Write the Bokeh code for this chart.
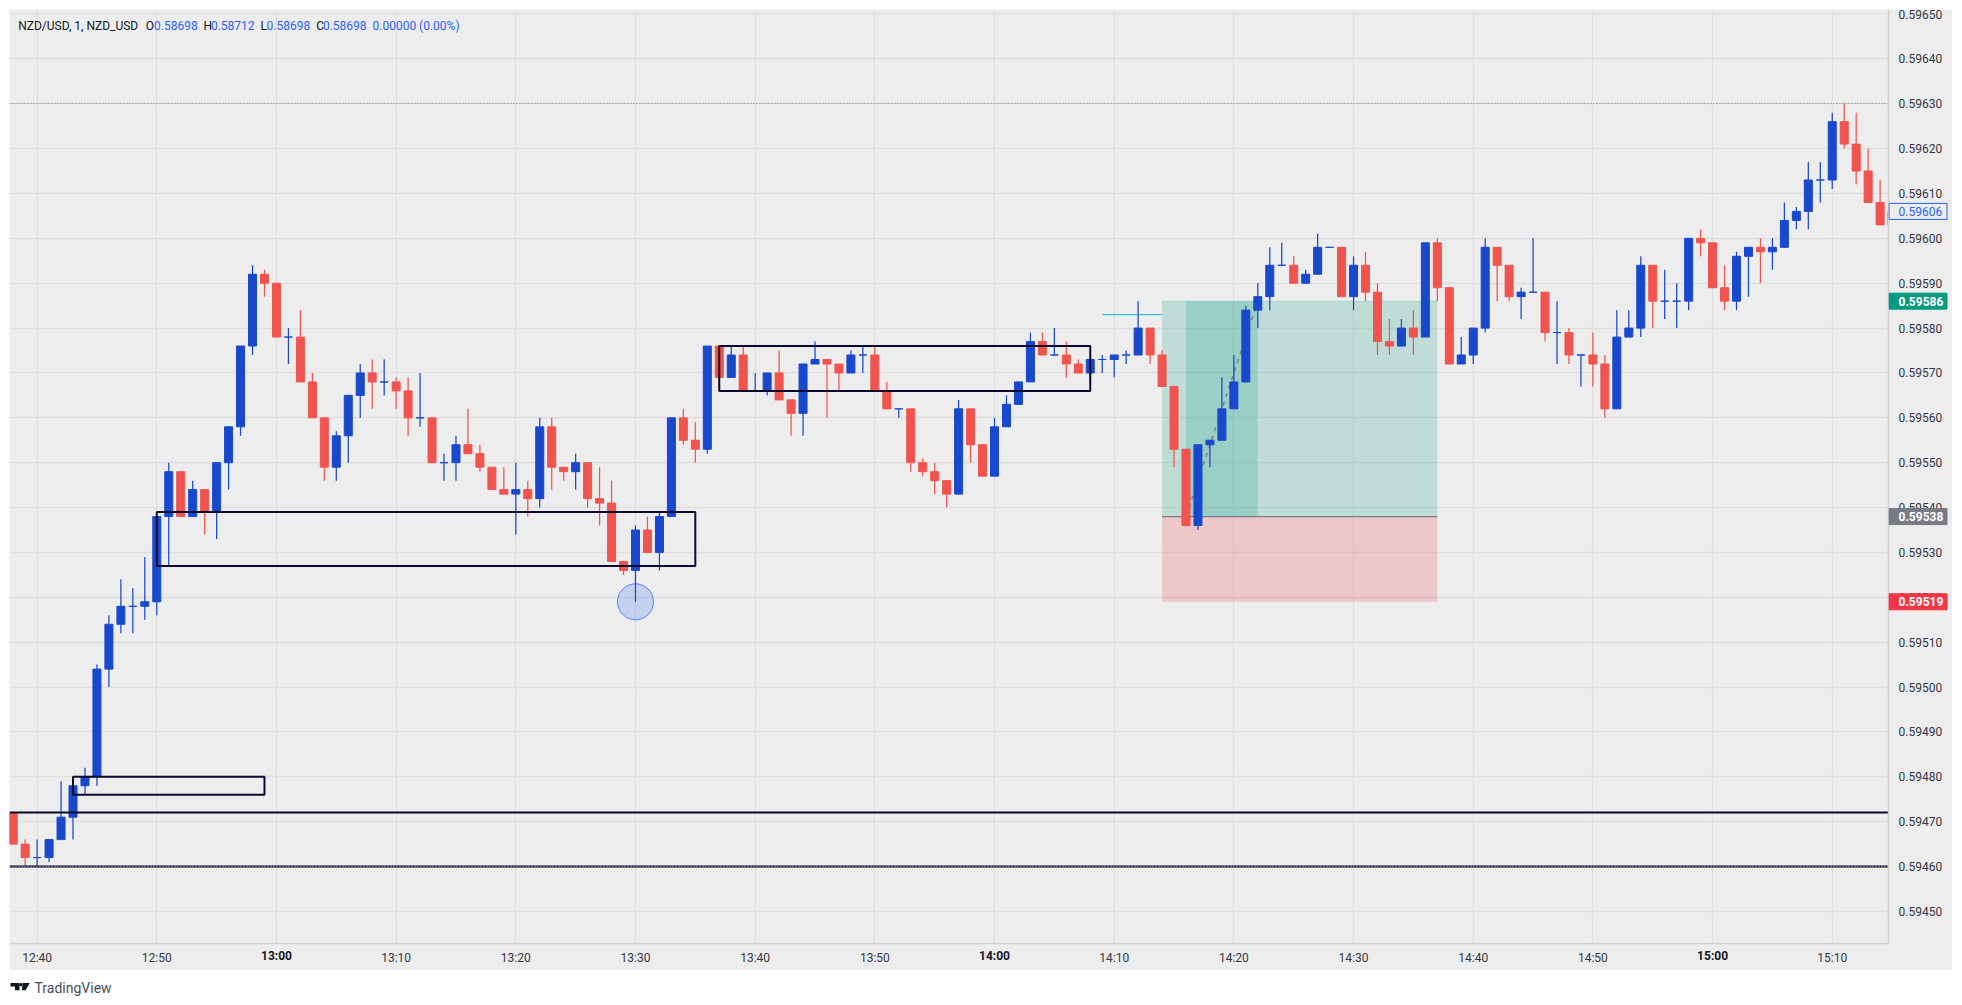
from bokeh.plotting import figure
from bokeh.layouts import column, row
from bokeh.models import Range1d, FixedTicker, PrintfTickFormatter, Label, ColumnDataSource
from bokeh.core.properties import value
from bokeh.embed import file_html
from bokeh.resources import INLINE
import numpy as np

# ---------- data (prices in units of 0.00001, first bar is 12:38, one bar per minute) ----------
first_minute = -2  # minutes relative to 12:40
opens = [59472,59465,59462,59462,59466,59471,59478,59480,59504,59514,59518,59518,59519,59538,59548,59538,59544,59539,59550,59558,
         59576,59592,59590,59578,59578,59568,59560,59549,59556,59565,59570,59568,59568,59566,59560,59560,59550,59550,59554,59552,
         59549,59544,59543,59544,59542,59558,59549,59548,59550,59542,59541,59528,59526,59535,59530,59538,59560,59555,59553,59576,
         59569,59574,59566,59566,59570,59564,59561,59572,59573,59572,59570,59574,59574,59566,59562,59562,59550,59548,59546,59543,
         59562,59554,59547,59558,59563,59568,59577,59574,59574,59572,59570,59573,59573,59574,59574,59580,59574,59567,59553,59536,
         59554,59555,59562,59568,59584,59587,59594,59594,59590,59592,59598,59598,59587,59594,59588,59577,59576,59580,59578,59599,
         59589,59572,59574,59580,59598,59594,59587,59588,59588,59579,59579,59574,59574,59572,59562,59578,59580,59594,59586,59586,
         59586,59600,59599,59589,59586,59596,59598,59597,59598,59604,59606,59613,59613,59626,59621,59615,59608,59603]
closes = [59465,59462,59462,59466,59471,59478,59480,59504,59514,59518,59518,59519,59538,59548,59538,59544,59539,59550,59558,59576,
          59592,59590,59578,59578,59568,59560,59549,59556,59565,59570,59568,59568,59566,59560,59560,59550,59550,59554,59552,59549,
          59544,59543,59544,59542,59558,59549,59548,59550,59542,59541,59528,59526,59535,59530,59538,59560,59555,59553,59576,59569,
          59574,59566,59566,59570,59564,59561,59572,59573,59572,59570,59574,59574,59566,59562,59562,59550,59548,59546,59543,59562,
          59554,59547,59558,59563,59568,59577,59574,59574,59572,59570,59573,59573,59574,59574,59580,59574,59567,59553,59536,59554,
          59555,59562,59568,59584,59587,59594,59594,59590,59592,59598,59598,59587,59594,59588,59577,59576,59580,59578,59599,59589,
          59572,59574,59580,59598,59594,59587,59588,59588,59579,59579,59574,59574,59572,59562,59578,59580,59594,59586,59586,59586,
          59600,59599,59589,59586,59596,59598,59597,59598,59604,59606,59613,59613,59626,59621,59615,59608,59603,59606]
highs = [59472,59466,59466,59466,59479,59478,59482,59505,59516,59524,59522,59529,59538,59550,59548,59546,59544,59550,59558,59576,
         59594,59593,59590,59580,59584,59570,59560,59557,59565,59572,59573,59573,59569,59569,59570,59560,59552,59556,59562,59554,
         59549,59549,59550,59546,59560,59560,59549,59552,59550,59549,59546,59528,59536,59538,59539,59560,59562,59559,59576,59576,
         59576,59576,59570,59570,59575,59564,59572,59577,59573,59572,59575,59576,59576,59568,59562,59562,59551,59550,59546,59564,
         59562,59554,59560,59565,59568,59579,59579,59580,59577,59573,59573,59574,59574,59575,59586,59580,59575,59567,59553,59554,
         59555,59569,59574,59585,59590,59598,59599,59596,59593,59601,59598,59598,59596,59597,59590,59582,59582,59584,59599,59600,
         59589,59578,59580,59600,59598,59594,59589,59600,59588,59586,59580,59574,59579,59574,59584,59584,59596,59594,59593,59590,
         59600,59602,59599,59594,59597,59598,59600,59600,59608,59607,59617,59617,59628,59630,59628,59620,59613,59606]
lows = [59465,59460,59460,59461,59466,59466,59476,59478,59500,59512,59512,59515,59516,59527,59538,59538,59534,59533,59544,59556,
        59574,59587,59578,59572,59568,59560,59546,59546,59550,59560,59562,59565,59562,59556,59558,59550,59546,59546,59552,59548,
        59544,59543,59534,59538,59540,59544,59546,59544,59540,59536,59528,59525,59519,59530,59526,59538,59554,59550,59552,59566,
        59569,59566,59566,59565,59564,59556,59556,59572,59560,59566,59570,59570,59566,59562,59560,59548,59547,59543,59540,59543,
        59550,59547,59547,59558,59563,59568,59574,59574,59569,59570,59568,59570,59569,59572,59574,59572,59567,59549,59536,59535,
        59549,59555,59562,59568,59580,59584,59594,59590,59590,59592,59598,59587,59584,59586,59574,59574,59576,59574,59578,59586,
        59572,59572,59572,59579,59586,59586,59582,59588,59577,59572,59572,59567,59567,59560,59562,59578,59578,59580,59582,59580,
        59584,59596,59589,59584,59584,59587,59590,59593,59598,59602,59602,59608,59611,59620,59612,59608,59603,59603]

time_ticks = [0,10,20,30,40,50,60,70,80,90,100,110,120,130,140,150]
time_labels = ["12:40","12:50","13:00","13:10","13:20","13:30","13:40","13:50","14:00","14:10","14:20","14:30","14:40","14:50","15:00","15:10"]
price_ticks = [0.5945,0.5946,0.5947,0.5948,0.5949,0.5950,0.5951,0.5952,0.5953,0.5954,0.5955,0.5956,0.5957,
               0.5958,0.5959,0.5960,0.5961,0.5962,0.5963,0.5964,0.5965]

# drawings: zones on the chart
box_left, box_right = [3,10,57], [19,55,88]
box_top, box_bottom = [0.59480,0.59539,0.59576], [0.59476,0.59527,0.59566]
level_lines = [0.59472,0.59460]
dotted_top = [0.59630]
dotted_low = [0.59460]
pos_left, pos_right = 94, 117
pos_target, pos_entry, pos_stop = 0.59586, 0.59538, 0.59519
pos_inner_left, pos_inner_right = 96, 102
circle_time, circle_price = 50, 0.59519
cyan_left, cyan_right, cyan_price = 89, 94, 0.59583
tag_text = ["0.59606","0.59586","0.59538","0.59519"]
tag_price = [0.59606,0.59586,0.59538,0.59519]
tag_fill = ["#EDEDED","#089981","#787B86","#F23645"]
tag_border = ["#2962FF","#089981","#787B86","#F23645"]
tag_color = ["#2962FF","#FFFFFF","#FFFFFF","#FFFFFF"]
tag_style = ["normal","bold","bold","bold"]
header_parts = [("NZD/USD, 1, NZD_USD",17.7,"#131722"),("O",145.2,"#131722"),("0.58698",153.6,"#2962FF"),
                ("H",202.9,"#131722"),("0.58712",210.4,"#2962FF"),("L",260.1,"#131722"),("0.58698",266.0,"#2962FF"),
                ("C",315.7,"#131722"),("0.58698",322.4,"#2962FF"),("0.00000 (0.00%)",372.0,"#2962FF")]

# ---------- style ----------
FONT = 'Roboto'
FS = "12px"
BG = "#EDEDED"
UP, DOWN = "#1848CC", "#F0544F"
NAVY = "#0C0A2C"
GRID = "#DFDFDF"
FRAME_W, FRAME_H = 1879, 934
FRAME_X0, FRAME_Y0 = 9, 9
AXIS_W, AXIS_H = 64, 27

o, h, l, c = [np.array(a) / 1e5 for a in (opens, highs, lows, closes)]
t = np.arange(first_minute, first_minute + len(opens))
colors = [UP if cc >= oo else DOWN for oo, cc in zip(o, c)]
src = ColumnDataSource(dict(t=t, o=o, h=h, l=l, c=c, color=colors))

p = figure(width=FRAME_W + AXIS_W, height=FRAME_H + AXIS_H, output_backend="svg", toolbar_location=None,
           x_range=Range1d(-2.307, 154.7), y_range=Range1d(0.5944285, 0.59651),
           y_axis_location="right", min_border_left=0, min_border_top=0,
           min_border_right=AXIS_W, min_border_bottom=AXIS_H, margin=(FRAME_Y0, 0, 0, FRAME_X0),
           background_fill_color=BG, border_fill_color=BG, outline_line_color=None)

p.xaxis.ticker = FixedTicker(ticks=time_ticks)
p.xaxis.major_label_overrides = {tk: ("" if lb.endswith(":00") else lb) for tk, lb in zip(time_ticks, time_labels)}
p.yaxis.ticker = FixedTicker(ticks=price_ticks)
p.yaxis.formatter = PrintfTickFormatter(format="%.5f")
for ax in (p.xaxis, p.yaxis):
    ax.major_tick_line_color = None
    ax.minor_tick_line_color = None
    ax.axis_line_color = "#CFCFCF"
    ax.axis_line_width = 1.5
    ax.major_label_text_font = FONT
    ax.major_label_text_font_size = FS
    ax.major_label_text_color = "#333644"
    ax.major_tick_in = 0
    ax.major_tick_out = 0
p.yaxis.major_label_standoff = 10
p.xaxis.major_label_standoff = 7
p.xgrid.ticker = FixedTicker(ticks=time_ticks)
p.ygrid.ticker = FixedTicker(ticks=price_ticks)
p.xgrid.grid_line_color = GRID
p.ygrid.grid_line_color = GRID
p.xgrid.grid_line_width = 1.3
p.ygrid.grid_line_width = 1.3

# position zones (under the candles)
p.quad(left=[pos_left], right=[pos_right], top=[pos_target], bottom=[pos_entry],
       fill_color="#089981", fill_alpha=0.2, line_color=None)
p.quad(left=[pos_inner_left], right=[pos_inner_right], top=[pos_target], bottom=[pos_entry],
       fill_color="#089981", fill_alpha=0.2, line_color=None)
p.quad(left=[pos_left], right=[pos_right], top=[pos_entry], bottom=[pos_stop],
       fill_color="#F23645", fill_alpha=0.2, line_color=None)
p.segment(x0=[pos_left], x1=[pos_right], y0=[pos_target], y1=[pos_target], line_color="#089981", line_alpha=0.2, line_width=1)
p.segment(x0=[pos_left], x1=[pos_right], y0=[pos_entry], y1=[pos_entry], line_color="#787B86", line_width=1.2)
p.segment(x0=[pos_inner_left], x1=[pos_inner_right], y0=[pos_entry], y1=[pos_target],
          line_color="#787B86", line_width=1.5, line_dash=value([4, 5]))
p.segment(x0=[cyan_left], x1=[cyan_right], y0=[cyan_price], y1=[cyan_price], line_color="#00BCD4", line_width=1)

# candles
p.segment(x0="t", x1="t", y0="l", y1="h", color="color", line_width=1.25, source=src)
p.vbar(x="t", width=0.669, top="o", bottom="c", fill_color="color", line_color="color", line_width=1, source=src)

# drawings over the candles
p.quad(left=box_left, right=box_right, top=box_top, bottom=box_bottom, fill_color=None, line_color=NAVY, line_width=2)
p.hspan(y=level_lines, line_color=NAVY, line_width=2)
p.hspan(y=dotted_top, line_color="#787B86", line_width=1, line_dash=value([1, 2]))
p.hspan(y=dotted_low, line_color="#B9B9CC", line_width=1, line_dash=value([1, 2]))
p.scatter(x=[circle_time], y=[circle_price], size=36, marker="circle", fill_color="#2962FF", fill_alpha=0.2,
          line_color="#2962FF", line_alpha=0.75, line_width=1)

# legend line
for txt, xpos, col in header_parts:
    p.add_layout(Label(x=xpos - FRAME_X0, x_units="screen", y=FRAME_H - 16, y_units="screen", text=txt,
                       text_align="left", text_baseline="middle", text_font=FONT, text_font_size=FS, text_color=col))

# transparent strip over the price axis: the price tags
strip = figure(width=AXIS_W, height=FRAME_H + AXIS_H, output_backend="svg", toolbar_location=None,
               x_range=Range1d(0, AXIS_W), y_range=p.y_range, x_axis_type=None, y_axis_type=None,
               min_border_left=0, min_border_right=0, min_border_top=0, min_border_bottom=AXIS_H,
               margin=(FRAME_Y0, 0, 0, -AXIS_W), background_fill_color=None, border_fill_color=None, outline_line_color=None)
strip.grid.visible = False
tag_src = ColumnDataSource(dict(x=[29.5] * 4, y=tag_price, text=tag_text, fill=tag_fill, border=tag_border,
                                color=tag_color, style=tag_style, tx=[10.0] * 4))
strip.rect(x="x", y="y", width=58, height=16, height_units="screen", fill_color="fill", line_color="border",
           line_width=1, source=tag_src)
strip.text(x="tx", y="y", text="text", text_color="color", text_font=value(FONT), text_font_size=value(FS),
           text_font_style="style", text_align="left", text_baseline="middle", source=tag_src)

# transparent strip over the time axis: the bold hour labels
hour_ticks = [tk for tk, lb in zip(time_ticks, time_labels) if lb.endswith(":00")]
hour_labels = [lb for lb in time_labels if lb.endswith(":00")]
hours = figure(width=FRAME_W, height=AXIS_H, output_backend="svg", toolbar_location=None,
               x_range=p.x_range, y_range=Range1d(AXIS_H, 0), x_axis_type=None, y_axis_type=None, min_border=0,
               margin=(-AXIS_H, 0, 0, FRAME_X0), background_fill_color=None, border_fill_color=None, outline_line_color=None)
hours.grid.visible = False
hours.text(x=hour_ticks, y=[12.7] * len(hour_ticks), text=hour_labels, text_font=value(FONT), text_font_size=value(FS),
           text_font_style="bold", text_color="#131722", text_align="center", text_baseline="middle")

# footer with the TradingView mark
logo_xs = [[10, 19, 19, 14.5, 14.5, 10], [22, 29.3, 25, 21.5]]
logo_ys = [[982.5, 982.5, 989.7, 989.7, 986, 986], [982.5, 982.5, 989.7, 989.7]]
logo_dot = (20.4, 984.2)
footer = figure(width=400, height=27, output_backend="svg", toolbar_location=None,
                x_range=Range1d(0, 400), y_range=Range1d(997, 970), min_border=0,
                background_fill_color="white", border_fill_color="white", outline_line_color=None)
footer.axis.visible = False
footer.grid.visible = False
footer.patches(xs=logo_xs, ys=logo_ys, fill_color="#131722", line_color=None)
footer.scatter(x=[logo_dot[0]], y=[logo_dot[1]], size=3.4, marker="circle", fill_color="#131722", line_color=None)
footer.text(x=[34], y=[987], text=["TradingView"], text_font=value(FONT), text_font_size=value("14px"),
            text_color="#4A4E5A", text_baseline="middle", text_align="left")

page = column(row(p, strip, spacing=0), hours, footer, spacing=0)
open("out.html", "w").write(file_html(page, INLINE))
